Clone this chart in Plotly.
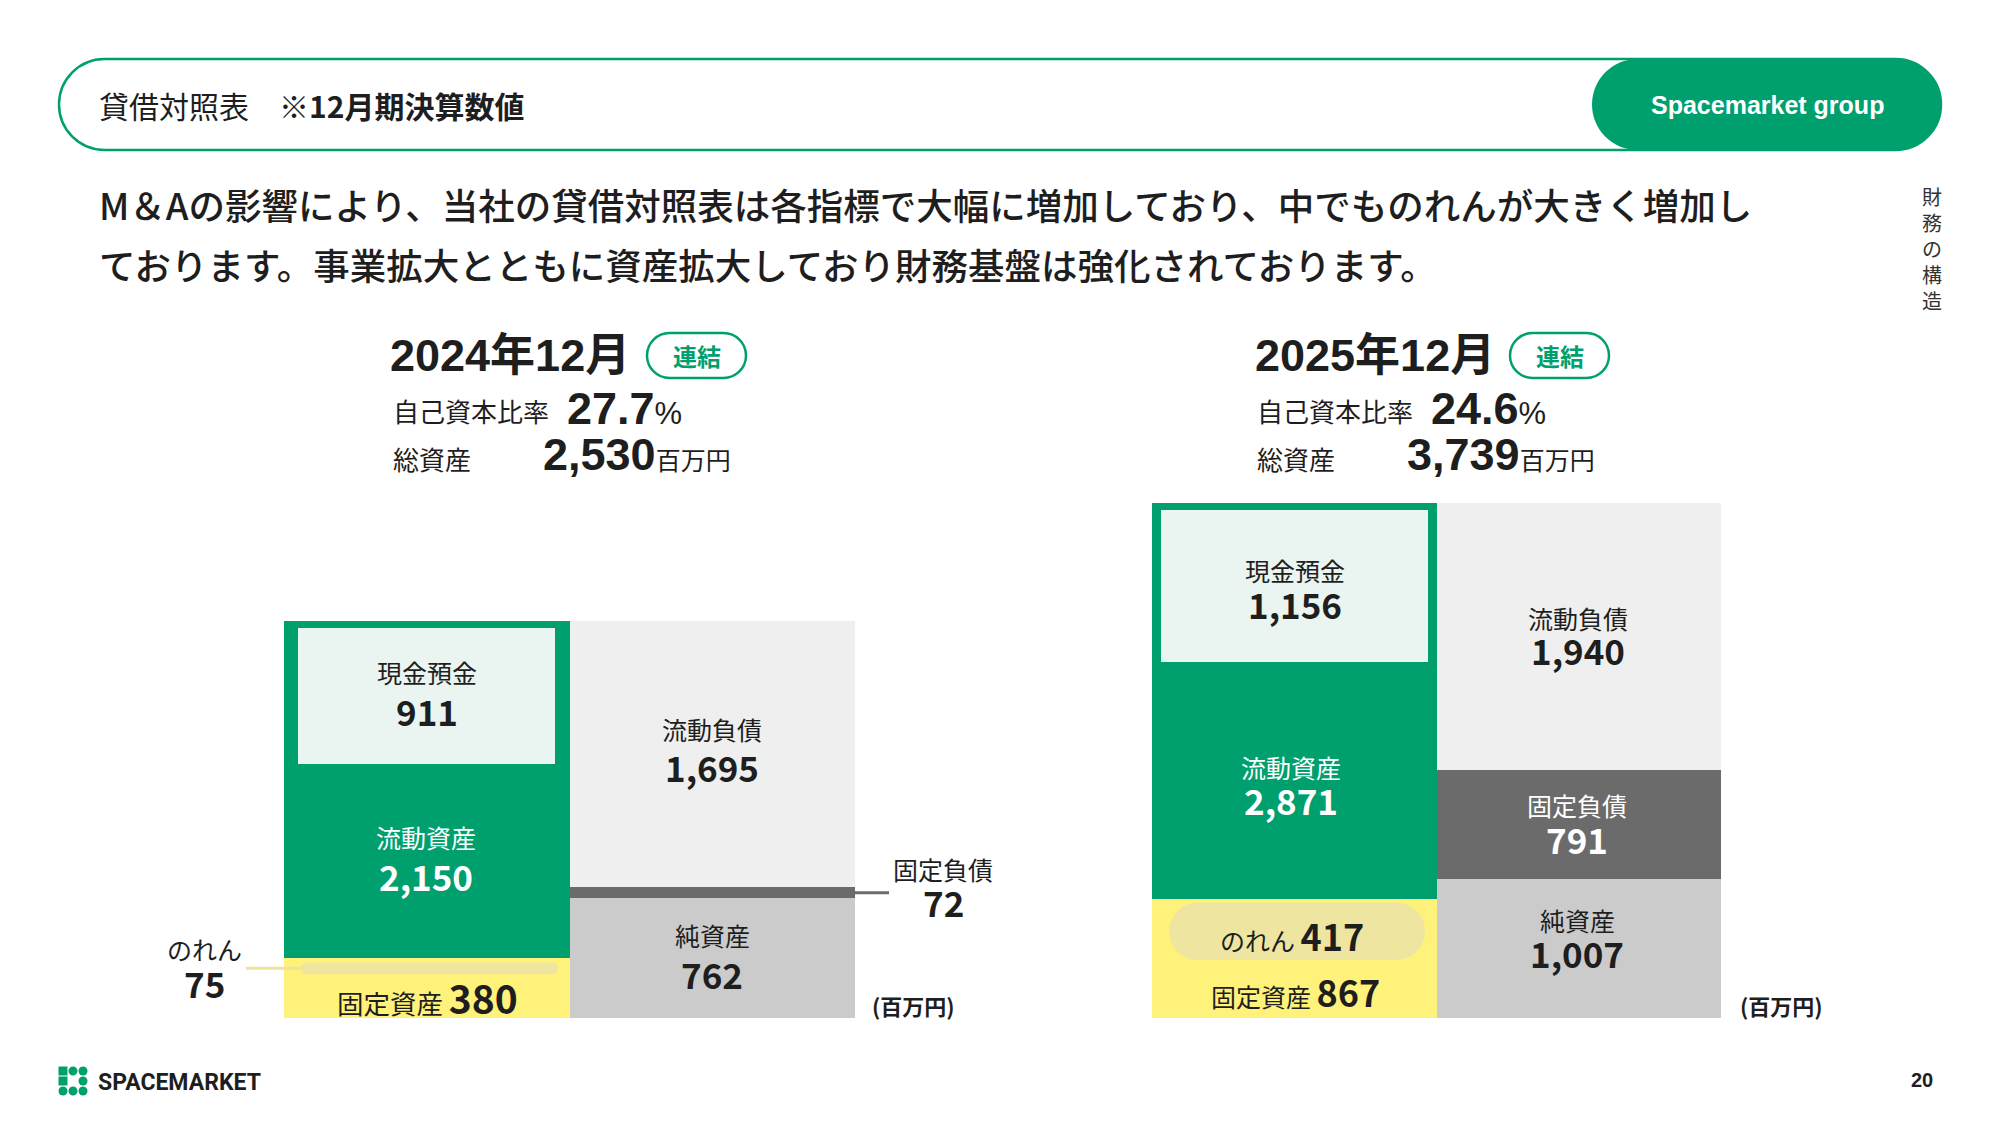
import plotly.graph_objects as go

# ---------------- data ----------------
periods = ["2024年12月", "2025年12月"]
equity_ratio = [27.7, 24.6]
total_assets = [2530, 3739]
cash = [911, 1156]
current_assets = [2150, 2871]
fixed_assets = [380, 867]
goodwill = [75, 417]
current_liab = [1695, 1940]
fixed_liab = [72, 791]
net_assets = [762, 1007]

title_text = "貸借対照表　<b>※12月期決算数値</b>"
group_text = "Spacemarket group"
body_lines = ["M＆Aの影響により、当社の貸借対照表は各指標で大幅に増加しており、中でものれんが大きく増加し",
              "ております。事業拡大とともに資産拡大しており財務基盤は強化されております。"]
side_text = "財務の構造"
unit_text = "(百万円)"

# ---------------- style ----------------
W, H = 2000, 1125
GREEN = "#00A06E"
CASH_FILL = "#EAF4F0"
YELLOW = "#FFF27A"
GOODWILL_C = "#EEE6A0"
CL_C = "#EFEFEF"
FL_C = "#6B6B6B"
NA_C = "#CBCBCB"
DARK = "#1E1E1E"
JP = "Noto Sans CJK JP"
LAT = "Liberation Sans, Noto Sans CJK JP"

# chart pixel boxes (left, right, top, bottom)
boxes = [(284, 855, 621, 1018), (1152, 1721, 503, 1018)]


def px(x):
    return x / W


def py(y):
    return 1 - y / H


fig = go.Figure()
annotations = []
shapes = []


def ann(x, y, text, size, color=DARK, family=JP, xanchor="center", yanchor="middle", weight=None):
    f = dict(size=size, color=color, family=family)
    if weight:
        f["weight"] = weight
    annotations.append(dict(x=px(x), y=py(y), xref="paper", yref="paper", text=text,
                            showarrow=False, xanchor=xanchor, yanchor=yanchor, borderpad=0,
                            font=f))


def pair(x, y_label, y_num, label, value, color=DARK):
    ann(x, y_label - 1, label, 25, color=color)
    ann(x, y_num - 3, f"<b>{value}</b>", 35, color=color)


def rrect(x0, y0, x1, y1, r, line=None, fill=None, lw=2.5):
    k = 0.5523 * r
    pts = lambda x, y: f"{px(x):.6f},{py(y):.6f}"
    path = (f"M {pts(x0 + r, y0)} L {pts(x1 - r, y0)} "
            f"C {pts(x1 - r + k, y0)} {pts(x1, y0 + r - k)} {pts(x1, y0 + r)} "
            f"L {pts(x1, y1 - r)} "
            f"C {pts(x1, y1 - r + k)} {pts(x1 - r + k, y1)} {pts(x1 - r, y1)} "
            f"L {pts(x0 + r, y1)} "
            f"C {pts(x0 + r - k, y1)} {pts(x0, y1 - r + k)} {pts(x0, y1 - r)} "
            f"L {pts(x0, y0 + r)} "
            f"C {pts(x0, y0 + r - k)} {pts(x0 + r - k, y0)} {pts(x0 + r, y0)} Z")
    shapes.append(dict(type="path", path=path, xref="paper", yref="paper",
                       line=dict(color=line or "rgba(0,0,0,0)", width=lw if line else 0),
                       fillcolor=fill or "rgba(0,0,0,0)", layer="above"))


# ---------------- header ----------------
rrect(59, 59, 1941, 150, 45.5, line=GREEN, lw=2.5)
rrect(1592, 59, 1941, 150, 45.5, fill=GREEN)
ann(98, 105, title_text, 30, xanchor="left")
ann(1767, 105, f"<b>{group_text}</b>", 25, color="white", family=LAT)
ann(98, 204, body_lines[0], 36.5, xanchor="left", weight=500)
ann(98, 265, body_lines[1], 36.5, xanchor="left", weight=500)
ann(1932, 248, "<br>".join(side_text), 20, color="#333333")

# ---------------- summaries ----------------
summary_x = [(389, 392, 566, 542, 647), (1254, 1256, 1430, 1406, 1510)]
for i in range(2):
    tx, lx, rx, nx, pillx = summary_x[i]
    ann(tx, 355, f"<b>{periods[i]}</b>", 45, family=LAT, xanchor="left")
    rrect(pillx, 333, pillx + 99, 378, 22.5, line=GREEN, lw=2.5)
    ann(pillx + 49.5, 356, "<b>連結</b>", 24, color=GREEN)
    ann(lx, 411, "自己資本比率", 26, xanchor="left")
    ann(rx, 408, f"<b>{equity_ratio[i]}</b><span style='font-size:31px'>%</span>", 45,
        family=LAT, xanchor="left")
    ann(lx, 459, "総資産", 26, xanchor="left")
    ann(nx, 455, f"<b>{total_assets[i]:,}</b><span style='font-size:25px;font-family:Noto Sans CJK JP'>百万円</span>",
        45, family=LAT, xanchor="left")

# ---------------- balance-sheet charts ----------------
cash_w = [0.948, 0.986]
CASH_LINE = 14
for i in range(2):
    xa = "x" if i == 0 else "x2"
    ya = "y" if i == 0 else "y2"
    x0, x1, top, bottom = boxes[i]
    ppu = (bottom - top) / total_assets[i]
    colpx = (x1 - x0) / 2

    def bar(xc, base, val, color, width=1.0, line_w=0, line_c=None):
        fig.add_trace(go.Bar(x=[xc], y=[val], base=[base], width=[width], xaxis=xa, yaxis=ya,
                             marker=dict(color=color, line=dict(width=line_w, color=line_c or color)),
                             hoverinfo="skip", showlegend=False))

    # assets
    bar(0, 0, fixed_assets[i], YELLOW)
    bar(0, fixed_assets[i], current_assets[i], GREEN)
    ca_top = fixed_assets[i] + current_assets[i]
    half_line = (CASH_LINE / 2) / ppu
    bar(0, ca_top - cash[i] - half_line, cash[i] + half_line, CASH_FILL, width=cash_w[i],
        line_w=CASH_LINE, line_c=GREEN)
    # liabilities & net assets
    bar(1, 0, net_assets[i], NA_C)
    bar(1, net_assets[i], fixed_liab[i], FL_C)
    bar(1, net_assets[i] + fixed_liab[i], current_liab[i], CL_C)

    # goodwill pill
    hpx = goodwill[i] * ppu
    gap = 4 / ppu
    yc = fixed_assets[i] - goodwill[i] / 2 - gap
    xl, xr = -0.44, 0.46
    r_units = (hpx / 2) / colpx
    fig.add_trace(go.Scatter(x=[xl + r_units, xr - r_units], y=[yc, yc], xaxis=xa, yaxis=ya,
                             mode="lines+markers", line=dict(color=GOODWILL_C, width=hpx),
                             marker=dict(color=GOODWILL_C, size=hpx, line=dict(width=0)),
                             hoverinfo="skip", showlegend=False))

# axes
for i in range(2):
    x0, x1, top, bottom = boxes[i]
    sfx = "" if i == 0 else "2"
    fig.update_layout(**{
        f"xaxis{sfx}": dict(domain=[px(x0), px(x1)], range=[-0.5, 1.5], visible=False, fixedrange=True,
                            anchor=f"y{sfx}"),
        f"yaxis{sfx}": dict(domain=[py(bottom), py(top)], range=[0, total_assets[i]], visible=False,
                            fixedrange=True, anchor=f"x{sfx}"),
    })


def n(v):
    return f"{v:,}"


# 2024 labels
pair(427, 673, 713, "現金預金", n(cash[0]))
pair(426, 838, 878, "流動資産", n(current_assets[0]), color="white")
ann(427, 997, f"<span style='font-size:26.5px'>固定資産</span> <span style='font-size:39px'><b>{n(fixed_assets[0])}</b></span>", 26)
pair(204, 950, 985, "のれん", n(goodwill[0]))
pair(712, 730, 769, "流動負債", n(current_liab[0]))
pair(712, 936, 976, "純資産", n(net_assets[0]))
pair(943, 870, 904, "固定負債", n(fixed_liab[0]))
ann(913, 1005, f"<b>{unit_text}</b>", 22)

# 2025 labels
pair(1295, 571, 606, "現金預金", n(cash[1]))
pair(1291, 768, 802, "流動資産", n(current_assets[1]), color="white")
ann(1292, 935, f"のれん <span style='font-size:36px'><b>{n(goodwill[1])}</b></span>", 25)
ann(1295, 991, f"固定資産 <span style='font-size:36px'><b>{n(fixed_assets[1])}</b></span>", 25)
pair(1578, 619, 653, "流動負債", n(current_liab[1]))
pair(1577, 806, 841, "固定負債", n(fixed_liab[1]), color="white")
pair(1577, 921, 955, "純資産", n(net_assets[1]))
ann(1781, 1005, f"<b>{unit_text}</b>", 22)

# connector lines (computed from data through pixel scale of left chart)
x0, x1, top, bottom = boxes[0]
ppu0 = (bottom - top) / total_assets[0]
fl_y = bottom - (net_assets[0] + fixed_liab[0] / 2) * ppu0
shapes.append(dict(type="line", xref="paper", yref="paper", x0=px(x1), x1=px(x1 + 34),
                   y0=py(fl_y), y1=py(fl_y), line=dict(color=FL_C, width=3)))
gw_y = bottom - (fixed_assets[0] - goodwill[0] / 2) * ppu0 + 4
shapes.append(dict(type="line", xref="paper", yref="paper", x0=px(246), x1=px(303),
                   y0=py(gw_y), y1=py(gw_y), line=dict(color="#EDE39A", width=3)))

# ---------------- footer ----------------
cells = [(0, 0, "rect"), (0, 1, "circle"), (0, 2, "circle"),
         (1, 0, "rect"), (1, 2, "circle"),
         (2, 0, "circle"), (2, 1, "circle"), (2, 2, "circle")]
cs = 10.0
lx0, ly0 = 58, 1066
for r_, c_, kind in cells:
    shapes.append(dict(type=kind, xref="paper", yref="paper",
                       x0=px(lx0 + c_ * cs + 0.5), x1=px(lx0 + (c_ + 1) * cs - 0.5),
                       y0=py(ly0 + r_ * cs + 0.5), y1=py(ly0 + (r_ + 1) * cs - 0.5),
                       fillcolor=GREEN, line=dict(width=0)))
ann(97, 1082, "<b>SPACEMARKET</b>", 23, family="Roboto", xanchor="left")
ann(1922, 1080, "<b>20</b>", 20, family=LAT)

fig.update_layout(width=W, height=H, margin=dict(l=0, r=0, t=0, b=0),
                  paper_bgcolor="white", plot_bgcolor="rgba(0,0,0,0)",
                  barmode="overlay", bargap=0, showlegend=False,
                  annotations=annotations, shapes=shapes)

fig.write_html("out.html")
